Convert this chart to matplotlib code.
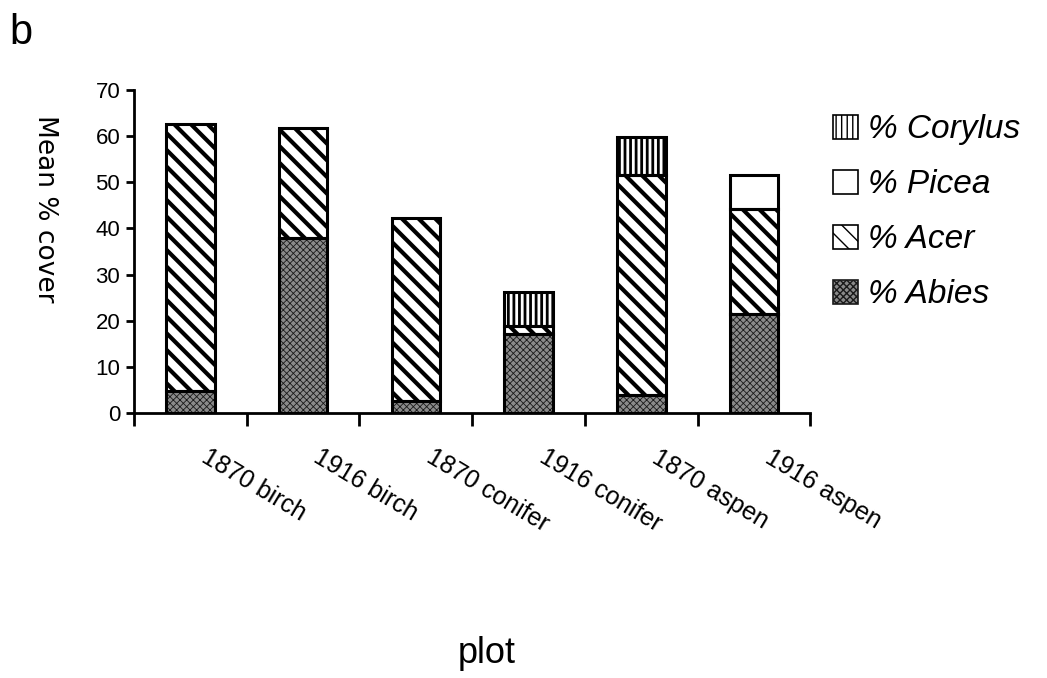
import matplotlib.pyplot as plt
import numpy as np

plt.rcParams['font.family'] = ['Liberation Sans', 'DejaVu Sans']

plots = ['1870 birch', '1916 birch', '1870 conifer', '1916 conifer', '1870 aspen', '1916 aspen']
abies = [4.8, 38.0, 2.5, 17.1, 3.8, 21.5]
acer = [57.9, 23.8, 39.8, 1.8, 47.7, 22.7]
picea = [0, 0, 0, 0, 0, 7.3]
corylus = [0, 0, 0, 7.4, 8.3, 0]

x = np.arange(len(plots))
w = 0.43

fig = plt.figure(figsize=(10.47, 6.78), dpi=100)
ax = fig.add_axes([0.128, 0.391, 0.646, 0.476])

# stippled Abies with thin hatch lines
with plt.rc_context({'hatch.linewidth': 0.6}):
    b_abies = ax.bar(x, abies, w, color='#8a8a8a', edgecolor='#1a1a1a', hatch='xxxxx',
                     linewidth=0, label='% Abies')
with plt.rc_context({'hatch.linewidth': 3.0}):
    b_acer = ax.bar(x, acer, w, bottom=abies, color='white', edgecolor='black', hatch='\\\\',
                    linewidth=0, label='% Acer')
bot2 = np.array(abies) + np.array(acer)
b_picea = ax.bar(x, picea, w, bottom=bot2, color='white', edgecolor='black',
                 linewidth=0, label='% Picea')
bot3 = bot2 + np.array(picea)
with plt.rc_context({'hatch.linewidth': 2.0}):
    b_cor = ax.bar(x, corylus, w, bottom=bot3, color='white', edgecolor='black', hatch='|||',
                   linewidth=0, label='% Corylus')

# outlines of the segments
for bars, vals, bots in [(b_abies, abies, np.zeros(6)), (b_acer, acer, abies),
                         (b_picea, picea, bot2), (b_cor, corylus, bot3)]:
    for i, v in enumerate(vals):
        if v > 0:
            ax.bar(x[i], v, w, bottom=bots[i], fill=False, edgecolor='black', linewidth=2.2)

ax.set_xlim(-0.5, len(plots) - 0.5)
ax.set_ylim(0, 70)
ax.set_yticks(range(0, 71, 10))
ax.tick_params(axis='y', labelsize=16, width=2, length=6, direction='out', pad=4)
ax.set_xticks(np.arange(-0.5, len(plots), 1.0))
ax.set_xticklabels([])
ax.tick_params(axis='x', width=2, length=9, direction='out')
for i, lab in enumerate(plots):
    ax.text(x[i] + 0.17, -7.0, lab, rotation=-31, ha='left', va='top', fontsize=18,
            rotation_mode='anchor', transform=ax.transData)
ax.spines['top'].set_visible(False)
ax.spines['right'].set_visible(False)
ax.spines['left'].set_linewidth(2)
ax.spines['bottom'].set_linewidth(2)

# y label sits higher than the axis centre, reading downwards
fig.text(0.043, 0.692, 'Mean % cover', rotation=-90, fontsize=19, ha='center', va='center',
         family=['DejaVu Sans'])

handles = [b_cor, b_picea, b_acer, b_abies]
leg = ax.legend(handles, [h.get_label() for h in handles], loc='upper left',
                bbox_to_anchor=(1.033, 0.925), frameon=False, borderpad=0, borderaxespad=0,
                handlelength=0.75, handleheight=0.75,
                handletextpad=0.32, labelspacing=0.72, prop={'size': 24, 'style': 'italic'})
for p in leg.get_patches():
    p.set_linewidth(1.2)

fig.text(0.009, 0.935, 'b', fontsize=30)
fig.text(0.465, 0.022, 'plot', fontsize=26, ha='center')

fig.savefig('out.png', dpi=100)
